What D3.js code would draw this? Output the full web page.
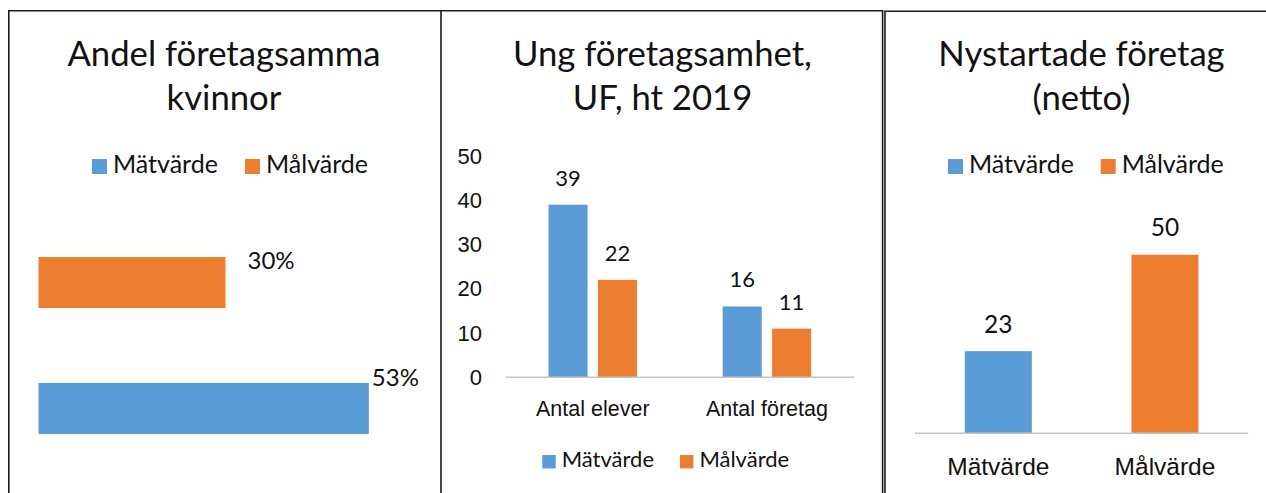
<!DOCTYPE html>
<html>
<head>
<meta charset="utf-8">
<script src="https://cdn.jsdelivr.net/npm/d3@7"></script>
<style>
  body { margin: 0; background: #fff; }
  svg { display: block; font-family: Lato, "Open Sans", sans-serif; }
  text { fill: #111; }
</style>
</head>
<body>
<svg id="chart" width="1266" height="493"></svg>
<script>
// serier och färger
const series = ['Mätvärde', 'Målvärde'];
const colors = ['#5B9BD5', '#ED7D31'];

// Andel företagsamma kvinnor
const kvinnorValues = [0.53, 0.30];

// Ung företagsamhet, UF, ht 2019
const ufCategories = ['Antal elever', 'Antal företag'];
const ufMatvarde = [39, 16];
const ufMalvarde = [22, 11];
const ufTicks = [0, 10, 20, 30, 40, 50];

// Nystartade företag (netto)
const nyValues = [23, 50];

const svg = d3.select('#chart');
const color = d3.scaleOrdinal().domain(series).range(colors);

// ramar
function frame(x0, x1, y0) {
    svg.append('path')
        .attr('d', 'M' + x0 + ',493V' + y0 + 'H' + x1 + (x1 < 1266 ? 'V493' : ''))
        .attr('fill', 'none')
        .attr('stroke', '#1a1a1a')
        .attr('stroke-width', 1.6);
}
frame(8.8, 882.6, 10.8);
frame(885, 1266, 11.3);
svg.append('line')
    .attr('x1', 441).attr('x2', 441)
    .attr('y1', 10.8).attr('y2', 493)
    .attr('stroke', '#1a1a1a').attr('stroke-width', 1.6);

function title(lines, cx) {
    lines.forEach((t, i) => {
        svg.append('text')
            .attr('x', cx)
            .attr('y', 66 + i * 44)
            .attr('text-anchor', 'middle')
            .attr('font-size', 34.7)
            .text(t);
    });
}

function legend(xs, y, size, fs) {
    series.forEach((s, i) => {
        svg.append('rect')
            .attr('x', xs[i]).attr('y', y)
            .attr('width', size).attr('height', size)
            .attr('fill', color(s));
        svg.append('text')
            .attr('x', xs[i] + size + 6)
            .attr('y', y + size - 1)
            .attr('font-size', fs)
            .text(s);
    });
}

// ---- panel 1: liggande staplar ----
title(['Andel företagsamma', 'kvinnor'], 224);
legend([92, 245], 159, 15, 25);

const x1 = d3.scaleLinear().domain([0, 0.6]).range([38.5, 412.5]);
const y1 = d3.scaleBand().domain(series.slice().reverse()).range([219.6, 471.4])
    .paddingInner(0.595).paddingOuter(0.2975);
const pct = d3.format('.0%');
const labelShift = { 'Mätvärde': [3, 3], 'Målvärde': [22, 12] };

const g1 = svg.append('g');
g1.selectAll('rect')
    .data(series)
    .join('rect')
    .attr('x', x1(0))
    .attr('y', d => y1(d))
    .attr('width', (d, i) => x1(kvinnorValues[i]) - x1(0))
    .attr('height', y1.bandwidth())
    .attr('fill', d => color(d));
g1.selectAll('text')
    .data(series)
    .join('text')
    .attr('x', (d, i) => x1(kvinnorValues[i]) + labelShift[d][0])
    .attr('y', d => y1(d) + labelShift[d][1])
    .attr('font-size', 24)
    .text((d, i) => pct(kvinnorValues[i]));

// ---- panel 2: grupperade staplar ----
title(['Ung företagsamhet,', 'UF, ht 2019'], 662.5);

const x2 = d3.scaleBand().domain(ufCategories).range([505.7, 854])
    .paddingInner(0.492).paddingOuter(0.246);
const x2s = d3.scaleBand().domain(series).range([0, x2.bandwidth()]).paddingInner(0.21);
const y2 = d3.scaleLinear().domain([0, 50]).range([377.3, 156]);
const ufData = ufCategories.map((c, i) => ({ cat: c, values: [ufMatvarde[i], ufMalvarde[i]] }));

const yAxis2 = svg.append('g')
    .attr('transform', 'translate(490,0)')
    .call(d3.axisLeft(y2).tickValues(ufTicks).tickSize(0).tickPadding(8));
yAxis2.select('.domain').remove();
yAxis2.selectAll('text').attr('font-size', 22).attr('font-family', null).attr('fill', '#111');

const groups2 = svg.append('g').selectAll('g')
    .data(ufData)
    .join('g')
    .attr('transform', d => 'translate(' + x2(d.cat) + ',0)');
groups2.selectAll('rect')
    .data(d => d.values.map((v, i) => ({ s: series[i], v: v })))
    .join('rect')
    .attr('x', d => x2s(d.s))
    .attr('y', d => y2(d.v))
    .attr('width', x2s.bandwidth())
    .attr('height', d => y2(0) - y2(d.v))
    .attr('fill', d => color(d.s));
groups2.selectAll('text')
    .data(d => d.values.map((v, i) => ({ s: series[i], v: v })))
    .join('text')
    .attr('x', d => x2s(d.s) + x2s.bandwidth() / 2)
    .attr('y', d => y2(d.v) - 19)
    .attr('text-anchor', 'middle')
    .attr('font-size', 22)
    .text(d => d.v);

svg.append('line')
    .attr('x1', 505.7).attr('x2', 854)
    .attr('y1', y2(0)).attr('y2', y2(0))
    .attr('stroke', '#c4c4c4').attr('stroke-width', 1.4);

const xAxis2 = svg.append('g')
    .attr('transform', 'translate(0,' + y2(0) + ')')
    .call(d3.axisBottom(x2).tickSize(0));
xAxis2.select('.domain').remove();
xAxis2.selectAll('text')
    .attr('y', 38.4).attr('dy', 0)
    .attr('font-size', 21.5).attr('font-family', null).attr('fill', '#111');

legend([542.3, 680], 455, 13.4, 22);

// ---- panel 3: två staplar ----
title(['Nystartade företag', '(netto)'], 1081.5);
legend([948, 1100.7], 159, 15, 25);

const x3 = d3.scaleBand().domain(series).range([915, 1248.3])
    .paddingInner(0.598).paddingOuter(0.299);
const y3 = d3.scaleLinear().domain([0, 60]).range([433.3, 219]);

const g3 = svg.append('g');
g3.selectAll('rect')
    .data(series)
    .join('rect')
    .attr('x', d => x3(d))
    .attr('y', (d, i) => y3(nyValues[i]))
    .attr('width', x3.bandwidth())
    .attr('height', (d, i) => y3(0) - y3(nyValues[i]))
    .attr('fill', d => color(d));
g3.selectAll('text')
    .data(series)
    .join('text')
    .attr('x', d => x3(d) + x3.bandwidth() / 2)
    .attr('y', (d, i) => y3(nyValues[i]) - 18.5)
    .attr('text-anchor', 'middle')
    .attr('font-size', 24.5)
    .text((d, i) => nyValues[i]);

svg.append('line')
    .attr('x1', 915).attr('x2', 1248.3)
    .attr('y1', y3(0)).attr('y2', y3(0))
    .attr('stroke', '#c4c4c4').attr('stroke-width', 1.4);

const xAxis3 = svg.append('g')
    .attr('transform', 'translate(0,' + y3(0) + ')')
    .call(d3.axisBottom(x3).tickSize(0));
xAxis3.select('.domain').remove();
xAxis3.selectAll('text')
    .attr('y', 41.7).attr('dy', 0)
    .attr('font-size', 24.5).attr('font-family', null).attr('fill', '#111');
</script>
</body>
</html>
